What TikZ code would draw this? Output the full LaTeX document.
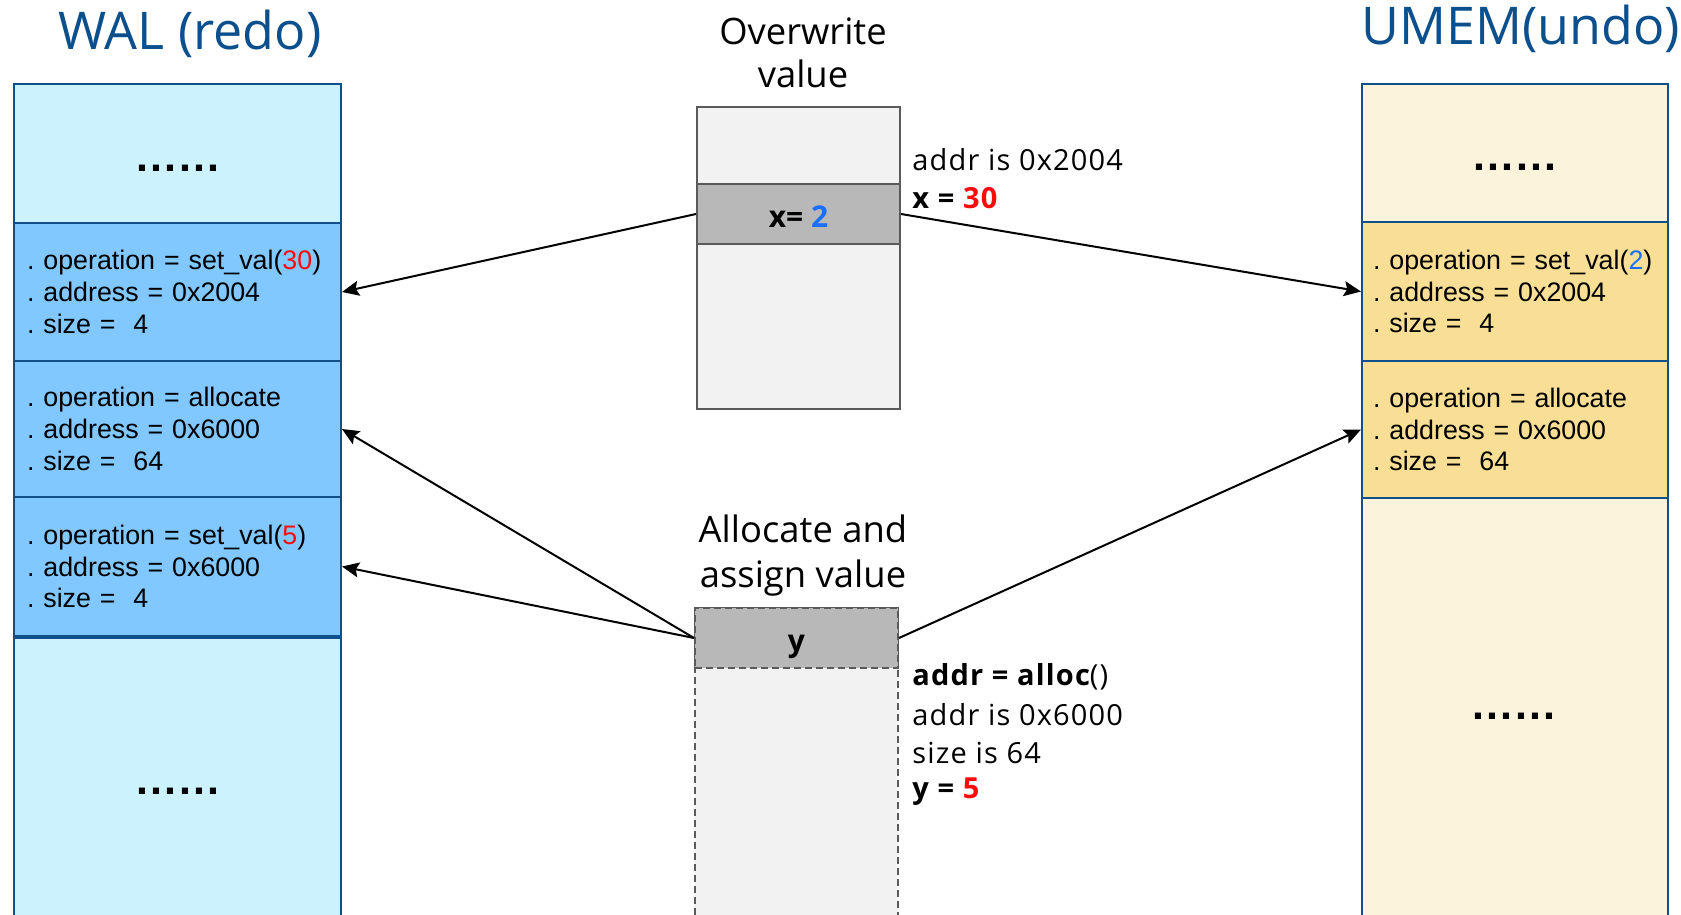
\documentclass[tikz,border=0pt]{standalone}
\usepackage{fontspec}
\setmainfont{Open Sans}
\newfontfamily\cellfont{Liberation Sans}
\newfontfamily\infofont[LetterSpace=4]{Open Sans}
\usetikzlibrary{arrows.meta}

\definecolor{titleblue}{HTML}{0B4F8C}
\definecolor{walline}{HTML}{0F4F8A}
\definecolor{wallight}{HTML}{CCF2FE}
\definecolor{walop}{HTML}{80C8FF}
\definecolor{umlight}{HTML}{FBF3DC}
\definecolor{umop}{HTML}{F9DE95}
\definecolor{memfill}{HTML}{F2F2F2}
\definecolor{memband}{HTML}{B8B8B8}
\definecolor{memline}{HTML}{5A5A5A}
\definecolor{hlred}{HTML}{FF0A0A}
\definecolor{hlblue}{HTML}{1A6FFF}

% a row of six bold dots, spread out a little
\newcommand\dotrow{{\cellfont\bfseries .\kern1.15pt.\kern1.15pt.\kern1.15pt.\kern1.15pt.\kern1.15pt.}}

\begin{document}
\frenchspacing
\begin{tikzpicture}[x=0.5pt,y=-0.5pt,
  title/.style={inner sep=0pt, anchor=base, text=titleblue, font=\fontsize{26}{30}\selectfont},
  heading/.style={inner sep=0pt, anchor=base, font=\fontsize{18.2}{21}\selectfont},
  info/.style={inner sep=0pt, anchor=base west, font=\infofont\fontsize{14.5}{17}\selectfont},
  cellbase/.style={draw=walline, line width=1pt, align=left,
    font=\cellfont\fontsize{13.4}{15.8}\selectfont},
  walcell/.style={cellbase, minimum width=163.5pt, text width=150.5pt, inner xsep=6.5pt},
  umcell/.style={cellbase, minimum width=153pt, text width=142pt, inner xsep=5.5pt},
  dots/.style={inner sep=0pt, font=\fontsize{21.5}{24}\selectfont},
  membox/.style={draw=memline, line width=1pt, fill=memfill, minimum width=101.5pt},
  band/.style={draw=memline, line width=1pt, fill=memband, minimum width=101.5pt,
    minimum height=30pt, text height=15.5pt, text depth=2pt,
    font=\bfseries\fontsize{15}{18}\selectfont},
  dashedline/.style={dash pattern=on 3.5pt off 2pt},
  arrow/.style={line width=1pt, -{Stealth[length=8.5pt, width=7.5pt, inset=1.5pt]}}
]
\useasboundingbox (0,0) rectangle (1681,915);
\clip (0,0) rectangle (1681,915);

% ---------- WAL (redo) column ----------
\node[title] (walTitle) at (190,50) {WAL (redo)};
\node[walcell, fill=wallight, minimum height=69.5pt] (walTop) at (177.5,153.5) {};
\node[walcell, fill=walop, minimum height=69pt] (walOp1) at (177.5,292)
  {. operation = set\_val(\textcolor{hlred}{30})\\. address = 0x2004\\. size = \ 4};
\node[walcell, fill=walop, minimum height=68pt] (walOp2) at (177.5,429)
  {. operation = allocate\\. address = 0x6000\\. size = \ 64};
\node[walcell, fill=walop, minimum height=69.5pt] (walOp3) at (177.5,566.5)
  {. operation = set\_val(\textcolor{hlred}{5})\\. address = 0x6000\\. size = \ 4};
\node[walcell, fill=wallight, minimum height=147pt] (walBot) at (177.5,783) {};
\draw[walline, line width=2pt] (walOp3.south west) -- (walOp3.south east);
\node[dots] (walTopDots) at (178,168) {\dotrow};
\node[dots] (walBotDots) at (178,791) {\dotrow};

% ---------- UMEM (undo) column ----------
\node[title] (umTitle) at (1521,45) {UMEM(undo)};
\node[umcell, fill=umlight, minimum height=69pt] (umTop) at (1515,153) {};
\node[umcell, fill=umop, minimum height=69.5pt] (umOp1) at (1515,291.5)
  {. operation = set\_val(\textcolor{hlblue}{2})\\. address = 0x2004\\. size = \ 4};
\node[umcell, fill=umop, minimum height=68.5pt] (umOp2) at (1515,429.5)
  {. operation = allocate\\. address = 0x6000\\. size = \ 64};
\node[umcell, fill=umlight, minimum height=216pt] (umBot) at (1515,714) {};
\node[dots] (umTopDots) at (1515,167) {\dotrow};
\node[dots] (umBotDots) at (1514,716) {\dotrow};

% ---------- overwrite value ----------
\node[heading] (ovTitleA) at (803,45) {Overwrite};
\node[heading] (ovTitleB) at (803,88) {value};
\node[membox, minimum height=151pt] (ovBox) at (798.5,258) {};
\node[band] (ovBand) at (798.5,214) {x= \textcolor{hlblue}{2}};
\node[info] (ovAddr) at (912,170) {addr is 0x2004};
\node[info] (ovVal) at (912,208) {\bfseries x = \textcolor{hlred}{30}};

% ---------- allocate and assign value ----------
\node[heading] (alTitleA) at (803,542) {Allocate and};
\node[heading] (alTitleB) at (803,587) {assign value};
\node[membox, dashedline, minimum height=158.5pt] (alBox) at (796.5,766.5) {};
\node[band, dashedline] (alBand) at (796.5,638) {y};
\node[info] (alCall) at (912,685) {{\bfseries addr = alloc}()};
\node[info] (alAddr) at (912,725) {addr is 0x6000};
\node[info] (alSize) at (912,763) {size is 64};
\node[info] (alVal) at (912,798) {\bfseries y = \textcolor{hlred}{5}};

% ---------- log records ----------
\draw[arrow] (ovBand.west) -- (walOp1.east);
\draw[arrow] (ovBand.east) -- (umOp1.west);
\draw[arrow] (alBand.west) -- (walOp2.east);
\draw[arrow] (alBand.west) -- (walOp3.east);
\draw[arrow] (alBand.east) -- (umOp2.west);
\end{tikzpicture}
\end{document}
